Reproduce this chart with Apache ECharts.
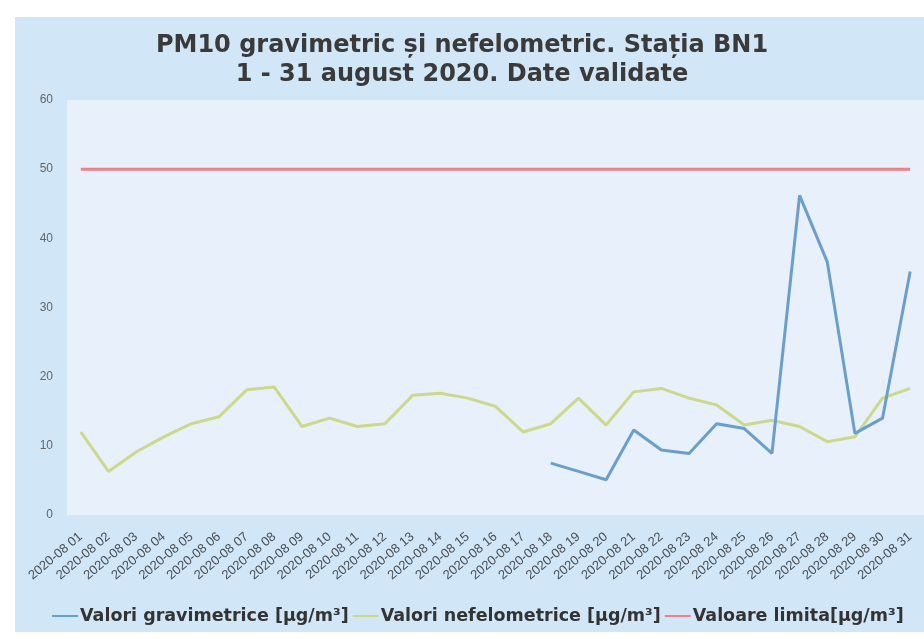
<!DOCTYPE html>
<html><head><meta charset="utf-8">
<script src="https://cdn.jsdelivr.net/npm/echarts@6/dist/echarts.min.js"></script>
<style>html,body{margin:0;padding:0;background:#fff}#c{width:924px;height:639px}</style>
</head><body><div id="c"></div>
<script>
const categories = ['2020-08 01','2020-08 02','2020-08 03','2020-08 04','2020-08 05','2020-08 06','2020-08 07','2020-08 08','2020-08 09','2020-08 10','2020-08 11','2020-08 12','2020-08 13','2020-08 14','2020-08 15','2020-08 16','2020-08 17','2020-08 18','2020-08 19','2020-08 20','2020-08 21','2020-08 22','2020-08 23','2020-08 24','2020-08 25','2020-08 26','2020-08 27','2020-08 28','2020-08 29','2020-08 30','2020-08 31'];
const gravimetric = [null,null,null,null,null,null,null,null,null,null,null,null,null,null,null,null,null,7.5,6.3,5.1,12.3,9.4,8.9,13.2,12.5,8.9,46.2,36.6,11.8,14.0,35.2];
const nefelometric = [12.0,6.3,9.1,11.3,13.2,14.2,18.1,18.5,12.8,14.0,12.8,13.2,17.3,17.6,16.9,15.7,12.0,13.2,16.9,13.0,17.8,18.3,16.9,15.9,13.0,13.7,12.8,10.6,11.3,16.9,18.3];
const limita = [50,50,50,50,50,50,50,50,50,50,50,50,50,50,50,50,50,50,50,50,50,50,50,50,50,50,50,50,50,50,50];
const yTicks = [0,10,20,30,40,50,60];
const seriesNames = ['Valori gravimetrice [µg/m³]','Valori nefelometrice [µg/m³]','Valoare limita[µg/m³]'];

const chart = echarts.init(document.getElementById('c'));
chart.setOption({
  animation:false,
  backgroundColor:'#ffffff',
  graphic:[{type:'rect',shape:{x:15,y:17,width:909,height:615},style:{fill:'#d1e7f8'},z:-10}],
  title:{text:'PM10 gravimetric și nefelometric. Stația BN1\n1 - 31 august 2020. Date validate',left:'center',top:26,
    textStyle:{fontFamily:'DejaVu Sans',fontWeight:'bold',fontSize:24,color:'#3a3a3a',lineHeight:29}},
  legend:{bottom:14,left:52,right:0,itemGap:4,itemWidth:26,itemHeight:2,icon:'rect',padding:0,
    textStyle:{fontFamily:'DejaVu Sans',fontWeight:'bold',fontSize:17.5,color:'#333',padding:[0,0,0,-3]},
    data:seriesNames},
  grid:{left:67,right:0,top:100,bottom:124,show:true,backgroundColor:'#e7f0fb',borderWidth:0},
  xAxis:{type:'category',data:categories,boundaryGap:true,
    axisLine:{show:false},axisTick:{show:false},
    axisLabel:{rotate:40,interval:0,fontSize:13,color:'#4a4f55',fontFamily:'Liberation Sans, Arial',margin:20}},
  yAxis:{type:'value',min:yTicks[0],max:yTicks[yTicks.length-1],interval:10,
    splitLine:{show:false},axisLine:{show:false},axisTick:{show:false},
    axisLabel:{fontSize:12,color:'#666',fontFamily:'Liberation Sans, Arial',margin:14}},
  series:[
    {name:seriesNames[0],type:'line',data:gravimetric,symbol:'none',connectNulls:false,lineStyle:{color:'#6a9fcc',width:3},itemStyle:{color:'#6a9fcc'},z:3},
    {name:seriesNames[1],type:'line',data:nefelometric,symbol:'none',lineStyle:{color:'#ccd88a',width:3},itemStyle:{color:'#ccd88a'},z:2},
    {name:seriesNames[2],type:'line',data:limita,symbol:'none',lineStyle:{color:'#f08087',width:3},itemStyle:{color:'#f08087'},z:2}
  ]
});
</script></body></html>
